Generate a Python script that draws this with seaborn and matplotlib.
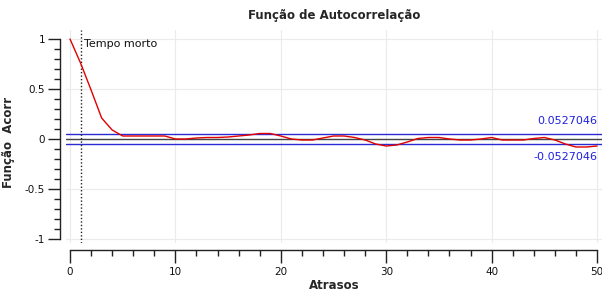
import numpy as np
import pandas as pd
import matplotlib
matplotlib.use("Agg")
import matplotlib.pyplot as plt
from matplotlib.ticker import MultipleLocator
import seaborn as sns

# Data
lags = list(range(0, 51))
acf = [1.0, 0.76, 0.49, 0.21, 0.09, 0.03, 0.03, 0.03, 0.03, 0.03,
       0.0, 0.0, 0.01, 0.015, 0.015, 0.02, 0.03, 0.04, 0.055, 0.055,
       0.03, 0.0, -0.01, -0.01, 0.01, 0.03, 0.03, 0.015, -0.01, -0.05,
       -0.07, -0.06, -0.03, 0.005, 0.015, 0.015, 0.0, -0.01, -0.01, 0.0,
       0.015, -0.01, -0.01, -0.01, 0.005, 0.015, -0.01, -0.05, -0.08, -0.08,
       -0.07]
conf = 0.0527046
dead_time = 1
conf_labels = ["0.0527046", "-0.0527046"]
title = "Função de Autocorrelação"
xlabel = "Atrasos"
ylabel = "Função  Acorr"
dead_label = "Tempo morto"

sns.set_theme(style="ticks")
plt.rcParams['font.family'] = ['DejaVu Sans']

df = pd.DataFrame({"lag": lags, "acf": acf})

fig = plt.figure(figsize=(6.02, 2.97), dpi=100)
ax = fig.add_axes([66/602, 1-243/297, (602-66)/602, (243-30)/297])

ax.set_xlim(-0.38, 50.47)
ax.set_ylim(-1.04, 1.09)

ax.grid(True, which="major", color="#ebebeb", linewidth=0.8)
ax.set_axisbelow(True)

ax.axhline(0, color="#444444", linewidth=1.0, zorder=2)
ax.axhline(conf, color="#2b2bd6", linewidth=1.0, zorder=2)
ax.axhline(-conf, color="#2b2bd6", linewidth=1.0, zorder=2)
ax.axvline(dead_time, color="#222222", linewidth=1.0, linestyle=(0, (1, 1.5)), zorder=2)

sns.lineplot(data=df, x="lag", y="acf", ax=ax, color="#e00000", linewidth=1.0, zorder=3)

ax.text(50, conf + 0.08, conf_labels[0], color="#2020e0", fontsize=8, ha="right", va="bottom")
ax.text(50, -conf - 0.08, conf_labels[1], color="#2020e0", fontsize=8, ha="right", va="top")
ax.text(dead_time + 0.3, 0.95, dead_label, color="#111111", fontsize=8, ha="left", va="center")

ax.xaxis.set_major_locator(MultipleLocator(10))
ax.xaxis.set_minor_locator(MultipleLocator(2))
ax.yaxis.set_major_locator(MultipleLocator(0.5))
ax.yaxis.set_minor_locator(MultipleLocator(0.1))
ax.set_yticks([-1, -0.5, 0, 0.5, 1])
ax.set_yticklabels(["-1", "-0.5", "0", "0.5", "1"])

for s in ["top", "right"]:
    ax.spines[s].set_visible(False)
ax.spines["left"].set_position(("outward", 4))
ax.spines["bottom"].set_position(("outward", 5))
ax.spines["left"].set_bounds(-1, 1)
ax.spines["bottom"].set_bounds(0, 50)
ax.spines["left"].set_color("#222222")
ax.spines["bottom"].set_color("#222222")
ax.spines["left"].set_linewidth(1.0)
ax.spines["bottom"].set_linewidth(1.0)

ax.tick_params(axis="both", which="major", direction="out", length=9, width=1.0,
               color="#222222", labelsize=7.5, labelcolor="#111111")
ax.tick_params(axis="both", which="minor", direction="out", length=4, width=1.0, color="#222222")
ax.tick_params(axis="y", which="major", pad=2)
ax.tick_params(axis="x", which="major", pad=3)

ax.set_title(title, fontsize=8.5, fontweight="bold", pad=8)
ax.set_xlabel(xlabel, fontsize=8.5, fontweight="bold", labelpad=2)
ax.set_ylabel(ylabel, fontsize=8.5, fontweight="bold")
ax.yaxis.set_label_coords((15 - 66) / 536, 0.47)

fig.savefig("out.png", dpi=100)
